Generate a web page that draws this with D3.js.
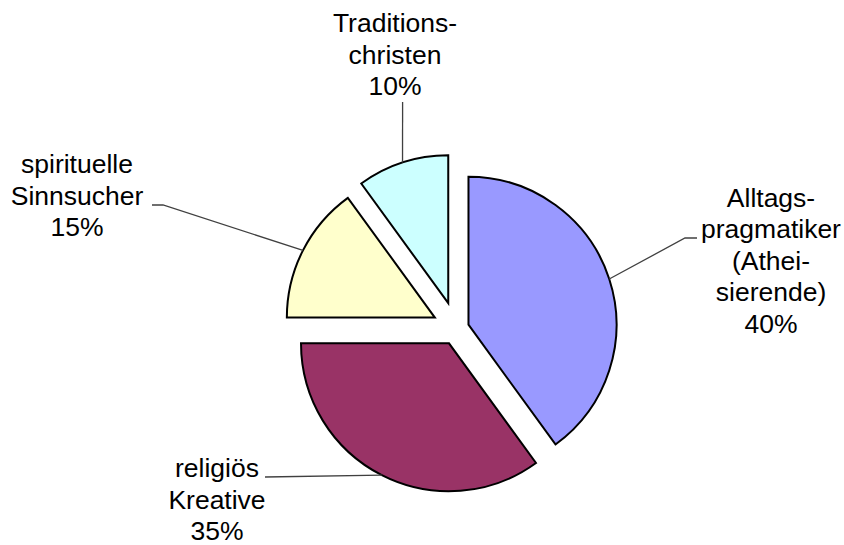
<!DOCTYPE html>
<html>
<head>
<meta charset="utf-8">
<script src="https://cdn.jsdelivr.net/npm/d3@7"></script>
<style>
  html, body { margin: 0; padding: 0; background: #ffffff; }
  svg { display: block; }
</style>
</head>
<body>
<svg id="chart" width="844" height="545"></svg>
<script>
// ---- data ----
const categories = [
  ["Alltags-", "pragmatiker", "(Athei-", "sierende)"],
  ["religiös", "Kreative"],
  ["spirituelle", "Sinnsucher"],
  ["Traditions-", "christen"]
];
const values = [40, 35, 15, 10];
const percentLabels = ["40%", "35%", "15%", "10%"];

// ---- styling / layout ----
const colors = ["#9999FF", "#993366", "#FFFFCC", "#CCFFFF"];
const explode = [12.6, 16.5, 24.3, 26.7];
const labelAnchor = [[771, 206.5], [217, 477], [77, 173], [395, 32]];
const leaderPts = [
  [[685, 238], [697, 238]],
  [[265, 477]],
  [[163, 205], [152, 205]],
  [[402.6, 102]]
];
const W = 844, H = 545;
const cx = 456.5, cy = 328.6, R = 148;
const lineH = 31.5;

const svg = d3.select("#chart");
svg.append("rect").attr("width", W).attr("height", H).attr("fill", "#fff");

const pie = d3.pie().sort(null).value(d => d).startAngle(0).endAngle(2 * Math.PI);
const arcs = pie(values);
const arc = d3.arc().innerRadius(0).outerRadius(R);

const g = svg.append("g").attr("transform", `translate(${cx},${cy})`);

function offset(d, i) {
  const a = (d.startAngle + d.endAngle) / 2;
  return [Math.sin(a) * explode[i], -Math.cos(a) * explode[i]];
}

// leader lines
arcs.forEach((d, i) => {
  const a = (d.startAngle + d.endAngle) / 2;
  const [ox, oy] = offset(d, i);
  const start = [cx + ox + Math.sin(a) * R, cy + oy - Math.cos(a) * R];
  const pts = [start].concat(leaderPts[i]);
  svg.append("path")
    .attr("d", d3.line()(pts))
    .attr("fill", "none")
    .attr("stroke", "#404040")
    .attr("stroke-width", 1.3);
});

// slices
g.selectAll("path.slice")
  .data(arcs)
  .join("path")
  .attr("class", "slice")
  .attr("d", arc)
  .attr("transform", (d, i) => { const o = offset(d, i); return `translate(${o[0]},${o[1]})`; })
  .attr("fill", (d, i) => colors[i])
  .attr("stroke", "#000")
  .attr("stroke-width", 2)
  .attr("stroke-linejoin", "miter");

// labels
arcs.forEach((d, i) => {
  const lines = categories[i].concat([percentLabels[i]]);
  const t = svg.append("text")
    .attr("x", labelAnchor[i][0])
    .attr("y", labelAnchor[i][1])
    .attr("text-anchor", "middle")
    .attr("font-family", "'Liberation Sans', Arial, sans-serif")
    .attr("font-size", "26.5px")
    .attr("fill", "#000");
  lines.forEach((ln, j) => {
    t.append("tspan")
      .attr("x", labelAnchor[i][0])
      .attr("dy", j === 0 ? 0 : lineH)
      .text(ln);
  });
});
</script>
</body>
</html>
